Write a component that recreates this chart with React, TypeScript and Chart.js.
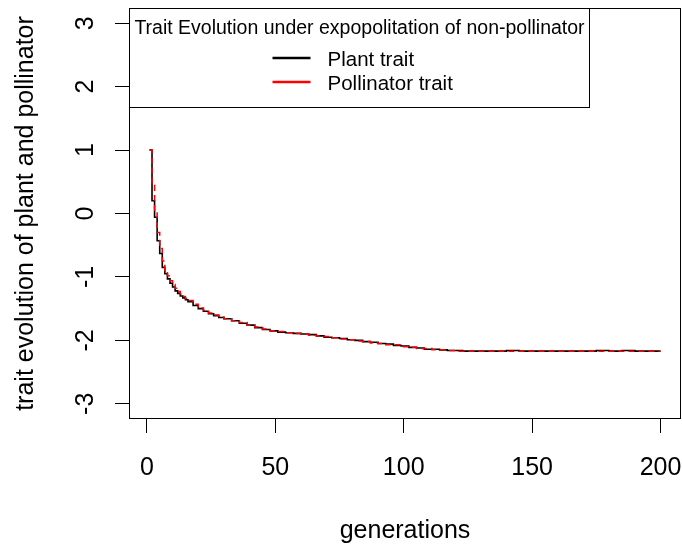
import { useEffect, useRef } from "react";
import { Chart, registerables } from "chart.js";

Chart.register(...registerables);

// ---- data ----
const generations = [
  1, 2, 3, 4, 5, 6, 7, 8, 9, 10, 11, 12, 13, 14, 15, 16, 18, 20, 22, 24, 26, 28, 30,
  33, 36, 39, 42, 45, 48, 51, 54, 57, 60, 63, 66, 69, 72, 75, 78, 81, 84, 87, 90, 93,
  96, 99, 102, 105, 108, 111, 114, 117, 120, 123, 126, 130, 135, 140, 145, 150, 155,
  160, 165, 170, 175, 180, 185, 190, 195, 200,
];
const plantTrait = [
  1.0, 0.2, -0.06, -0.43, -0.63, -0.85, -0.95, -1.03, -1.1, -1.16, -1.22, -1.26, -1.3,
  -1.33, -1.36, -1.39, -1.45, -1.5, -1.54, -1.58, -1.61, -1.64, -1.66,
  -1.69, -1.73, -1.76, -1.8, -1.83, -1.85, -1.87, -1.88, -1.89, -1.9, -1.91, -1.93, -1.95,
  -1.96, -1.97, -1.99, -2.0, -2.02, -2.03, -2.05, -2.06,
  -2.08, -2.09, -2.11, -2.12, -2.14, -2.14, -2.15, -2.16, -2.16, -2.17, -2.17, -2.17,
  -2.17, -2.16, -2.17, -2.17, -2.17,
  -2.17, -2.17, -2.17, -2.16, -2.17, -2.16, -2.17, -2.17, -2.17,
];
const pollinatorTrait = [
  1.0, 0.45, 0.05, -0.3, -0.55, -0.75, -0.9, -0.98, -1.06, -1.12, -1.18, -1.23, -1.27,
  -1.31, -1.34, -1.37, -1.43, -1.49, -1.53, -1.57, -1.6, -1.63, -1.66,
  -1.69, -1.72, -1.76, -1.79, -1.82, -1.85, -1.86, -1.88, -1.89, -1.9, -1.92, -1.93, -1.94,
  -1.96, -1.98, -1.99, -2.01, -2.02, -2.04, -2.05, -2.07,
  -2.07, -2.1, -2.11, -2.13, -2.13, -2.15, -2.15, -2.16, -2.17, -2.17, -2.17, -2.17,
  -2.17, -2.17, -2.17, -2.17, -2.17,
  -2.17, -2.17, -2.17, -2.17, -2.17, -2.17, -2.17, -2.17, -2.17,
];
const xTicks = [0, 50, 100, 150, 200];
const yTicks = [-3, -2, -1, 0, 1, 2, 3];
const seriesLabels = ["Plant trait", "Pollinator trait"];
const legendTitle = "Trait Evolution under expopolitation of non-pollinator";
const xTitle = "generations";
const yTitle = "trait evolution of plant and pollinator";

const FONT = '"Liberation Sans", Arial, sans-serif';

const decorPlugin = {
  id: "rDecor",
  afterDraw(chart: any) {
    const { ctx, chartArea: ca, scales } = chart;
    const xs = scales.x;
    const ys = scales.y;
    ctx.save();
    // plot box
    ctx.strokeStyle = "#000";
    ctx.lineWidth = 1;
    const l = Math.round(ca.left) + 0.5;
    const t = Math.round(ca.top) + 0.5;
    const r = Math.round(ca.right) - 0.5;
    const b = Math.round(ca.bottom) - 0.5;
    ctx.strokeRect(l, t, r - l, b - t);

    ctx.fillStyle = "#000";
    ctx.font = `25px ${FONT}`;
    // x tick labels
    ctx.textAlign = "center";
    ctx.textBaseline = "alphabetic";
    xTicks.forEach((v) => {
      ctx.fillText(String(v), xs.getPixelForValue(v), ca.bottom + 56);
    });
    // y tick labels (rotated)
    yTicks.forEach((v) => {
      ctx.save();
      ctx.translate(ca.left - 36, ys.getPixelForValue(v));
      ctx.rotate(-Math.PI / 2);
      ctx.fillText(String(v), 0, 0);
      ctx.restore();
    });
    // axis titles
    ctx.fillText(xTitle, (ca.left + ca.right) / 2, ca.bottom + 119);
    ctx.save();
    ctx.translate(ca.left - 96, (ca.top + ca.bottom) / 2);
    ctx.rotate(-Math.PI / 2);
    ctx.fillText(yTitle, 0, 0);
    ctx.restore();

    // legend
    const lx = l;
    const ly = t;
    const lw = 460;
    const lh = 99;
    ctx.fillStyle = "#fff";
    ctx.fillRect(lx, ly, lw, lh);
    ctx.strokeStyle = "#000";
    ctx.strokeRect(lx, ly, lw, lh);
    ctx.fillStyle = "#000";
    ctx.font = `19.5px ${FONT}`;
    ctx.textAlign = "center";
    ctx.fillText(legendTitle, lx + lw / 2, ly + 25);
    ctx.font = `20.5px ${FONT}`;
    const ds = chart.data.datasets;
    const rows = [ly + 49.5, ly + 73.5];
    ds.forEach((d: any, i: number) => {
      ctx.strokeStyle = d.borderColor;
      ctx.lineWidth = 2.5;
      ctx.setLineDash([]);
      ctx.beginPath();
      ctx.moveTo(lx + 143, rows[i]);
      ctx.lineTo(lx + 181, rows[i]);
      ctx.stroke();
      ctx.fillStyle = "#000";
      ctx.textAlign = "left";
      ctx.fillText(d.label, lx + 198, rows[i] + 8);
    });
    ctx.restore();
  },
};

export default function App() {
  const canvasRef = useRef<HTMLCanvasElement | null>(null);

  useEffect(() => {
    document.body.style.margin = "0";
    const canvas = canvasRef.current;
    if (!canvas) return;
    const chart = new Chart(canvas, {
      type: "line",
      data: {
        datasets: [
          {
            label: seriesLabels[0],
            data: generations.map((g, i) => ({ x: g, y: plantTrait[i] })),
            borderColor: "#000000",
            borderWidth: 1.6,
            pointRadius: 0,
            stepped: true,
            fill: false,
            order: 2,
          },
          {
            label: seriesLabels[1],
            data: generations.map((g, i) => ({ x: g, y: pollinatorTrait[i] })),
            borderColor: "#ff0000",
            borderWidth: 1.5,
            borderDash: [6, 4],
            pointRadius: 0,
            stepped: true,
            fill: false,
            order: 1,
          },
        ],
      },
      options: {
        animation: false,
        responsive: false,
        devicePixelRatio: 1,
        layout: { padding: { top: 8, right: 1, left: 0, bottom: 0 } },
        plugins: { legend: { display: false }, tooltip: { enabled: false } },
        scales: {
          x: {
            type: "linear",
            min: -6.96,
            max: 207.96,
            afterBuildTicks: (s: any) => {
              s.ticks = xTicks.map((v) => ({ value: v }));
            },
            afterFit: (s: any) => {
              s.height = 126;
            },
            ticks: { display: false },
            grid: { drawOnChartArea: false, drawTicks: true, tickLength: 14, color: "#000", lineWidth: 1 },
            border: { display: false },
          },
          y: {
            type: "linear",
            min: -3.24,
            max: 3.24,
            afterBuildTicks: (s: any) => {
              s.ticks = yTicks.map((v) => ({ value: v }));
            },
            afterFit: (s: any) => {
              s.width = 129;
            },
            ticks: { display: false },
            grid: { drawOnChartArea: false, drawTicks: true, tickLength: 14, color: "#000", lineWidth: 1 },
            border: { display: false },
          },
        },
      },
      plugins: [decorPlugin],
    });
    return () => chart.destroy();
  }, []);

  return (
    <div style={{ width: 682, height: 545 }}>
      <canvas ref={canvasRef} width={682} height={545} />
    </div>
  );
}
